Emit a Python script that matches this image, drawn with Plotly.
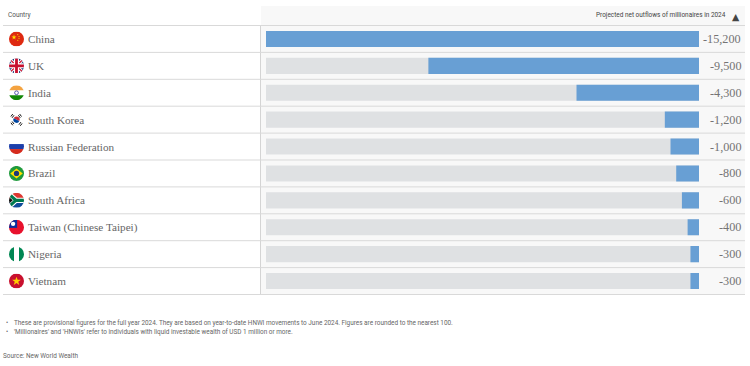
import base64
import plotly.graph_objects as go

countries = ["China", "UK", "India", "South Korea", "Russian Federation", "Brazil",
             "South Africa", "Taiwan (Chinese Taipei)", "Nigeria", "Vietnam"]
outflows = [-15200, -9500, -4300, -1200, -1000, -800, -600, -400, -300, -300]
labels = ["-15,200", "-9,500", "-4,300", "-1,200", "-1,000", "-800", "-600", "-400", "-300", "-300"]
full_scale = [-15200] * len(countries)

W, H = 750, 366
px = lambda v: v / W
py = lambda v: 1 - v / H

FLAGS = {
    "China": '<rect width="24" height="24" fill="#de2910"/><path d="M8 5l1 3h3l-2.500 2 1 3-2.500-2-2.500 2 1-3-2.500-2h3z" fill="#ffde00"/><circle cx="14" cy="5" r=".9" fill="#ffde00"/><circle cx="16" cy="8" r=".9" fill="#ffde00"/><circle cx="16" cy="11" r=".9" fill="#ffde00"/><circle cx="14" cy="14" r=".9" fill="#ffde00"/>',
    "UK": '<rect width="24" height="24" fill="#1d3a78"/><path d="M0 0L24 24M24 0L0 24" stroke="#fff" stroke-width="5"/><path d="M0 0L24 24M24 0L0 24" stroke="#c8102e" stroke-width="2"/><path d="M12 0V24M0 12H24" stroke="#fff" stroke-width="8"/><path d="M12 0V24M0 12H24" stroke="#c8102e" stroke-width="4.500"/>',
    "India": '<rect width="24" height="24" fill="#fff"/><rect width="24" height="8" fill="#f4a340"/><rect y="16" width="24" height="8" fill="#138808"/><circle cx="12" cy="12" r="3" fill="none" stroke="#000080" stroke-width="1"/>',
    "South Korea": '<rect width="24" height="24" fill="#fff"/><path d="M7 12a5 5 0 0 1 10 0z" fill="#cd2e3a" transform="rotate(25 12 12)"/><path d="M7 12a5 5 0 0 0 10 0z" fill="#0047a0" transform="rotate(25 12 12)"/><path d="M3 7l3-4M5 9l3-4M17 3l3 4M15 5l3 4M3 17l3 4M5 15l3 4M16 20l3-4M18 22l3-4" stroke="#111" stroke-width="1.600"/>',
    "Russian Federation": '<rect width="24" height="24" fill="#fff"/><rect y="8" width="24" height="8" fill="#1c3faa"/><rect y="16" width="24" height="8" fill="#d52b1e"/>',
    "Brazil": '<rect width="24" height="24" fill="#1f9a3c"/><path d="M12 4L22 12L12 20L2 12z" fill="#fedf00"/><circle cx="12" cy="12" r="4.200" fill="#1d3a78"/>',
    "South Africa": '<rect width="24" height="24" fill="#fff"/><rect width="24" height="9" fill="#de3831"/><rect y="15" width="24" height="9" fill="#0f4c9a"/><path d="M0 2L11 12L0 22M11 12H24" fill="none" stroke="#fff" stroke-width="8.500"/><path d="M0 2L11 12L0 22M11 12H24" fill="none" stroke="#007a4d" stroke-width="5"/><path d="M0 6.500L6 12L0 17.500z" fill="#111"/>',
    "Taiwan (Chinese Taipei)": '<rect width="24" height="24" fill="#e8112d"/><rect width="13" height="13" fill="#0b2f9e"/><circle cx="6.500" cy="6.500" r="3.500" fill="#fff"/>',
    "Nigeria": '<rect width="24" height="24" fill="#fff"/><rect width="8" height="24" fill="#008753"/><rect x="16" width="8" height="24" fill="#008753"/>',
    "Vietnam": '<rect width="24" height="24" fill="#c8102e"/><path d="M12 5l1.800 5h5.200l-4.200 3.200 1.600 5.300-4.400-3.200-4.400 3.200 1.600-5.300-4.200-3.200h5.200z" fill="#ffcd00"/>',
}


def flag_uri(body):
    svg = ('<svg xmlns="http://www.w3.org/2000/svg" width="96" height="96" viewBox="0 0 24 24">'
           '<defs><clipPath id="c"><circle cx="12" cy="12" r="12"/></clipPath></defs>'
           f'<g clip-path="url(#c)">{body}</g></svg>')
    return "data:image/svg+xml;base64," + base64.b64encode(svg.encode()).decode()


fig = go.Figure()
fig.add_bar(y=countries, x=full_scale, orientation="h", marker_color="#dfe1e3",
            marker_line_width=0, width=0.6, hoverinfo="skip")
fig.add_bar(y=countries, x=outflows, orientation="h", marker_color="#689fd4",
            marker_line_width=0, width=0.6)

shapes = [
    dict(type="rect", xref="paper", yref="paper", x0=px(261), x1=px(745), y0=py(294.5), y1=py(6),
         fillcolor="#f8f8f8", line_width=0, layer="below"),
    dict(type="line", xref="paper", yref="paper", x0=px(260.5), x1=px(260.5), y0=py(294.5), y1=py(25.5),
         line=dict(color="#d4d4d4", width=1), layer="below"),
]
row_h = (294.5 - 25.5) / 10
for i in range(11):
    y = 25.5 + i * row_h
    shapes.append(dict(type="line", xref="paper", yref="paper", x0=px(3), x1=px(745),
                       y0=py(y), y1=py(y), line=dict(color="#d9d9d9", width=1), layer="below"))

annotations = []


def note(x, y, text, size, color, font, anchor="left"):
    annotations.append(dict(xref="paper", yref="paper", x=px(x), y=py(y), text=text, showarrow=False,
                            xanchor=anchor, yanchor="middle", align=anchor, borderpad=0, borderwidth=0,
                            font=dict(size=size, color=color, family=font)))


note(8, 15.5, "Country", 6.5, "#555555", "Roboto")
note(726, 15.5, "Projected net outflows of millionaires in 2024", 6.45, "#444444", "Roboto", "right")
note(740, 16, "▲", 9.5, "#444444", "DejaVu Sans", "right")

images = []
for i, (c, lab) in enumerate(zip(countries, labels)):
    cy = 25.5 + (i + 0.5) * row_h
    note(28, cy, c, 11.2, "#666666", "Liberation Serif")
    note(741, cy, lab, 12.2, "#747474", "Liberation Serif", "right")
    images.append(dict(source=flag_uri(FLAGS[c]), xref="paper", yref="paper", x=px(9), y=py(cy - 7.5),
                       sizex=px(15), sizey=15 / H, xanchor="left", yanchor="top", layer="above"))

note(14, 323, "These are provisional figures for the full year 2024. They are based on year-to-date HNWI movements to June 2024. Figures are rounded to the nearest 100.", 6.4, "#666666", "Roboto")
note(14, 331.5, "'Millionaires' and 'HNWIs' refer to individuals with liquid investable wealth of USD 1 million or more.", 6.4, "#666666", "Roboto")
note(6, 323, "•", 6.4, "#666666", "Roboto")
note(6, 331.5, "•", 6.4, "#666666", "Roboto")
note(3, 355.5, "Source: New World Wealth", 6.4, "#666666", "Roboto")

fig.update_layout(
    width=W, height=H, autosize=False, margin=dict(l=0, r=0, t=0, b=0),
    paper_bgcolor="#ffffff", plot_bgcolor="rgba(0,0,0,0)",
    barmode="overlay", showlegend=False,
    xaxis=dict(domain=[px(266), px(699)], range=[-15200, 0], visible=False, fixedrange=True),
    yaxis=dict(domain=[py(294.5), py(25.5)], autorange="reversed", visible=False, fixedrange=True,
               categoryorder="array", categoryarray=countries),
    shapes=shapes, annotations=annotations, images=images,
)
fig.write_html("out.html", config=dict(displayModeBar=False),
               post_script="document.body.style.margin='0';document.documentElement.style.overflow='hidden';")
